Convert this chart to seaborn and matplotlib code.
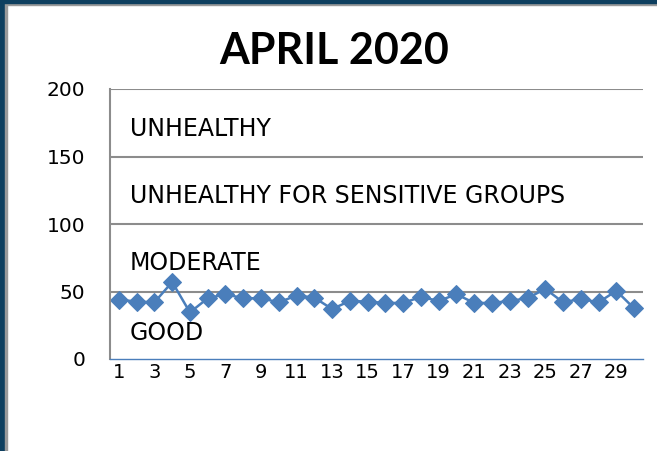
import matplotlib
matplotlib.use("Agg")
import matplotlib.pyplot as plt
import seaborn as sns
import pandas as pd
from matplotlib.patches import Rectangle

days = list(range(1, 31))
aqi = [44, 42.5, 42, 57, 34.5, 45, 48, 45, 45, 42, 47, 45.5, 37, 43, 42.5,
       41.5, 41.5, 46, 43, 48, 41.5, 41.5, 43, 45, 52, 42, 44.5, 42, 50.5, 37.5]
zone_labels = ["GOOD", "MODERATE", "UNHEALTHY FOR SENSITIVE GROUPS", "UNHEALTHY"]
zone_label_y = [19, 71, 121, 170]
yticks = [0, 50, 100, 150, 200]

sns.set_theme(style="white")
plt.rcParams['font.family'] = ['DejaVu Sans']

fig = plt.figure(figsize=(6.57, 4.51), dpi=100)
ax = fig.add_axes([110/657, 1 - 359/451, (643-110)/657, (359-89)/451])

df = pd.DataFrame({"day": days, "aqi": aqi})
blue = "#4A7EBB"
sns.lineplot(data=df, x="day", y="aqi", ax=ax, color=blue, linewidth=1.8,
             marker="D", markersize=9.5, markeredgecolor=blue, markerfacecolor=blue)

ax.set_xlim(0.5, 30.5)
ax.set_ylim(0, 200)
ax.set_yticks(yticks)
ax.set_yticklabels([str(v) for v in yticks], fontsize=14.5, color="black")
ax.set_xticks(days[::2])
ax.set_xticklabels([str(d) for d in days[::2]], fontsize=14, color="black")
ax.tick_params(axis="y", length=0, pad=18)
ax.tick_params(axis="x", length=0, pad=3)
ax.set_xlabel("")
ax.set_ylabel("")

for v in yticks[1:]:
    ax.axhline(v, color="#8C8C8C", linewidth=1.5, zorder=0)

for s in ["top", "right"]:
    ax.spines[s].set_visible(False)
ax.spines["left"].set_color("#8C8C8C")
ax.spines["left"].set_linewidth(1.5)
ax.spines["bottom"].set_color("#4A7EBB")
ax.spines["bottom"].set_linewidth(1.0)

for lab, yv in zip(zone_labels, zone_label_y):
    ax.text(1.62, yv, lab, fontsize=17, color="black", va="center", ha="left")

fig.text((222+447)/2/657, 1 - 51/451, "APRIL 2020", fontsize=31, fontweight="bold",
         ha="center", va="center", color="black", family=["Lato", "DejaVu Sans"])

# frame on left and top
dark = "#0E3F5F"
fig.patches.append(Rectangle((0, 0), 5/657, 1, transform=fig.transFigure,
                             color=dark, zorder=10))
fig.patches.append(Rectangle((5/657, 0), 2/657, 1, transform=fig.transFigure,
                             color="#9A9A9A", zorder=10))
fig.patches.append(Rectangle((0, 1 - 3/451), 1, 3/451, transform=fig.transFigure,
                             color=dark, zorder=10))
fig.patches.append(Rectangle((5/657, 1 - 5/451), 1, 2/451, transform=fig.transFigure,
                             color="#9A9A9A", zorder=9))

fig.savefig("out.png", dpi=100)
